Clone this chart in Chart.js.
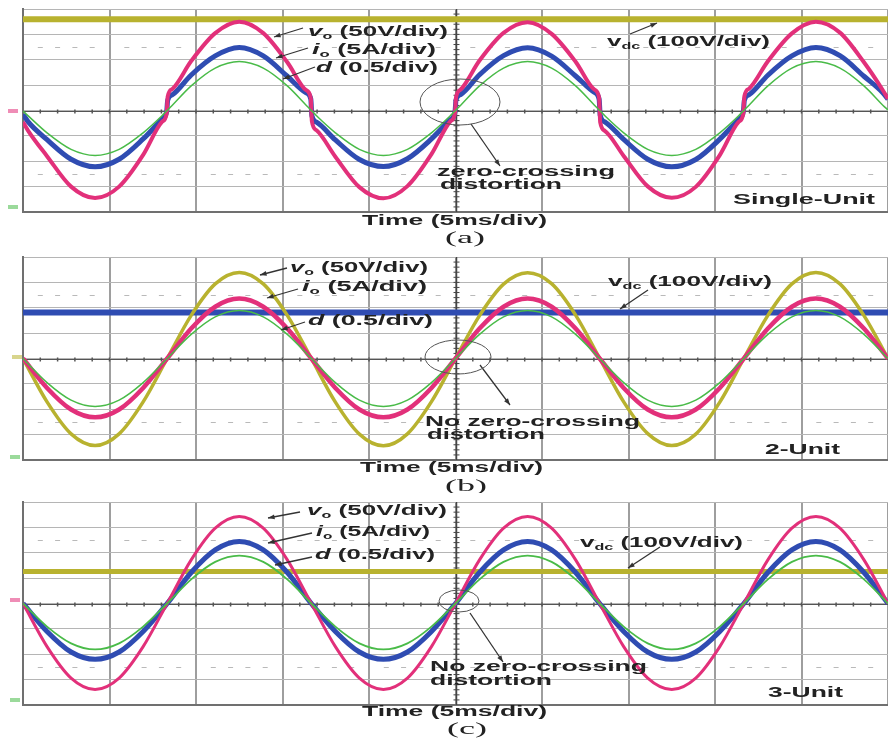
<!DOCTYPE html>
<html>
<head>
<meta charset="utf-8">
<script src="https://cdn.jsdelivr.net/npm/chart.js@4.4.1/dist/chart.umd.min.js"></script>
<style>
  body { margin: 0; background: #fff; width: 888px; height: 738px; overflow: hidden; position: relative; }
  canvas { position: absolute; left: 0; }
</style>
</head>
<body>
<canvas id="chartA" width="888" height="248" style="top:0"></canvas>
<canvas id="chartB" width="888" height="245" style="top:248px"></canvas>
<canvas id="chartC" width="888" height="245" style="top:493px"></canvas>
<script>
// time axis in ms (5 ms/div, 10 div), values in scope divisions
// (a) has extra samples around each zero crossing for the step
const timeA = [0, 0.3, 1.389, 2.778, 4.167, 5.556, 6.944, 8.033, 8.303, 8.363, 8.633, 9.722, 11.111, 12.5, 13.889, 15.278, 16.367, 16.637,
  16.697, 16.967, 18.056, 19.444, 20.833, 22.222, 23.611, 24.7, 24.97, 25.03, 25.3, 26.389, 27.778, 29.167, 30.556, 31.944, 33.033, 33.303,
  33.363, 33.633, 34.722, 36.111, 37.5, 38.889, 40.278, 41.367, 41.637, 41.697, 41.967, 43.056, 44.444, 45.833, 47.222, 48.611, 49.7, 50];

// (a) single-unit
const voA = [-0.45, -0.8, -1.8, -3.0, -3.45, -3.0, -1.75, -0.45, -0.12, 0.55, 0.85, 1.95, 3.05, 3.5, 3.05, 1.9, 0.8, 0.48,
  -0.42, -0.78, -1.82, -3.02, -3.46, -2.98, -1.72, -0.43, -0.1, 0.52, 0.83, 1.97, 3.06, 3.48, 3.02, 1.92, 0.82, 0.5,
  -0.46, -0.8, -1.79, -2.99, -3.44, -3.01, -1.76, -0.45, -0.12, 0.56, 0.86, 1.94, 3.04, 3.5, 3.07, 1.9, 0.8, 0.46];
const ioA = [-0.15, -0.45, -1.15, -1.92, -2.22, -1.92, -1.12, -0.35, -0.05, 0.4, 0.62, 1.4, 2.15, 2.48, 2.15, 1.35, 0.7, 0.45,
  -0.2, -0.46, -1.16, -1.93, -2.21, -1.9, -1.12, -0.36, -0.06, 0.42, 0.63, 1.41, 2.16, 2.47, 2.14, 1.36, 0.71, 0.44,
  -0.18, -0.45, -1.14, -1.92, -2.22, -1.93, -1.13, -0.35, -0.05, 0.4, 0.62, 1.39, 2.15, 2.48, 2.16, 1.35, 0.7, 0.45];
const dA = [-0.02, -0.21, -0.88, -1.53, -1.77, -1.53, -0.88, -0.21, -0.02, 0.02, 0.21, 0.97, 1.67, 1.93, 1.67, 0.97, 0.21, 0.02,
  -0.02, -0.21, -0.88, -1.53, -1.77, -1.53, -0.88, -0.21, -0.02, 0.02, 0.21, 0.97, 1.67, 1.93, 1.67, 0.97, 0.21, 0.02,
  -0.02, -0.21, -0.88, -1.53, -1.77, -1.53, -0.88, -0.21, -0.02, 0.02, 0.21, 0.97, 1.67, 1.93, 1.67, 0.97, 0.21, 0.02];

const timeBC = [0, 1.389, 2.778, 4.167, 5.556, 6.944, 8.333, 9.722, 11.111, 12.5, 13.889, 15.278,
  16.667, 18.056, 19.444, 20.833, 22.222, 23.611, 25, 26.389, 27.778, 29.167, 30.556, 31.944,
  33.333, 34.722, 36.111, 37.5, 38.889, 40.278, 41.667, 43.056, 44.444, 45.833, 47.222, 48.611, 50];

// (b) 2-unit
const voB = [0, -1.71, -2.97, -3.43, -2.97, -1.71, 0, 1.7, 2.94, 3.39, 2.94, 1.7,
  0, -1.72, -2.98, -3.44, -2.97, -1.7, 0, 1.69, 2.93, 3.38, 2.95, 1.71,
  0, -1.71, -2.96, -3.43, -2.98, -1.72, 0, 1.7, 2.94, 3.39, 2.94, 1.69, 0];
const ioB = [0, -1.16, -2.01, -2.32, -2.01, -1.16, 0, 1.18, 2.04, 2.36, 2.04, 1.18,
  0, -1.16, -2.01, -2.32, -2.01, -1.16, 0, 1.18, 2.04, 2.36, 2.04, 1.18,
  0, -1.16, -2.01, -2.32, -2.01, -1.16, 0, 1.18, 2.04, 2.36, 2.04, 1.18, 0];
const dB = [0, -0.95, -1.64, -1.89, -1.64, -0.95, 0, 0.95, 1.64, 1.89, 1.64, 0.95,
  0, -0.95, -1.64, -1.89, -1.64, -0.95, 0, 0.95, 1.64, 1.89, 1.64, 0.95,
  0, -0.95, -1.64, -1.89, -1.64, -0.95, 0, 0.95, 1.64, 1.89, 1.64, 0.95, 0];

// (c) 3-unit
const voC = [0, -1.7, -2.94, -3.39, -2.94, -1.7, 0, 1.72, 2.97, 3.43, 2.97, 1.72,
  0, -1.7, -2.94, -3.39, -2.94, -1.7, 0, 1.72, 2.97, 3.43, 2.97, 1.72,
  0, -1.7, -2.94, -3.39, -2.94, -1.7, 0, 1.72, 2.97, 3.43, 2.97, 1.72, 0];
const ioC = [0, -1.1, -1.91, -2.2, -1.91, -1.1, 0, 1.22, 2.11, 2.44, 2.11, 1.22,
  0, -1.1, -1.91, -2.2, -1.91, -1.1, 0, 1.22, 2.11, 2.44, 2.11, 1.22,
  0, -1.1, -1.91, -2.2, -1.91, -1.1, 0, 1.22, 2.11, 2.44, 2.11, 1.22, 0];
const dC = [0, -0.91, -1.57, -1.81, -1.57, -0.91, 0, 0.95, 1.64, 1.89, 1.64, 0.95,
  0, -0.91, -1.57, -1.81, -1.57, -0.91, 0, 0.95, 1.64, 1.89, 1.64, 0.95,
  0, -0.91, -1.57, -1.81, -1.57, -0.91, 0, 0.95, 1.64, 1.89, 1.64, 0.95, 0];

// dc link traces are flat
const vdcTime = [0, 50];
const vdcA = [3.6, 3.6];
const vdcB = [1.81, 1.81];
const vdcC = [1.26, 1.26];

const OLIVE = '#b8b22f';
const PINK = '#e2307a';
const BLUE = '#2f4cb2';
const GREEN = '#49bb48';

function pts(ts, vs) {
  return ts.map((t, i) => ({ x: t, y: vs[i] }));
}

function line(ts, vs, color, width) {
  return {
    data: pts(ts, vs),
    borderColor: color,
    borderWidth: width,
    pointRadius: 0,
    fill: false,
    cubicInterpolationMode: 'monotone'
  };
}

// draw text stretched to a given width (the scope captions are wide)
function drawRich(ctx, parts, x, y, width, size, serif) {
  const fam = serif ? '"Liberation Serif", serif' : '"Liberation Sans", Arial, sans-serif';
  const fontFor = p => {
    const sz = p[1] === 's' ? size * 0.62 : size;
    const st = p[1] === 'i' ? 'italic ' : '';
    return st + (serif ? '' : 'bold ') + sz + 'px ' + fam;
  };
  let natural = 0;
  parts.forEach(p => { ctx.font = fontFor(p); natural += ctx.measureText(p[0]).width; });
  ctx.save();
  ctx.translate(x, y);
  ctx.scale(width / natural, 1);
  ctx.fillStyle = '#222';
  ctx.textBaseline = 'middle';
  ctx.textAlign = 'left';
  let cx = 0;
  parts.forEach(p => {
    ctx.font = fontFor(p);
    ctx.fillText(p[0], cx, p[1] === 's' ? size * 0.3 : 0);
    cx += ctx.measureText(p[0]).width;
  });
  ctx.restore();
}

function arrow(ctx, x1, y1, x2, y2) {
  ctx.save();
  ctx.strokeStyle = '#333';
  ctx.fillStyle = '#333';
  ctx.lineWidth = 1.3;
  ctx.beginPath();
  ctx.moveTo(x1, y1);
  ctx.lineTo(x2, y2);
  ctx.stroke();
  const a = Math.atan2(y2 - y1, x2 - x1);
  ctx.beginPath();
  ctx.moveTo(x2, y2);
  ctx.lineTo(x2 - 7 * Math.cos(a - 0.35), y2 - 7 * Math.sin(a - 0.35));
  ctx.lineTo(x2 - 7 * Math.cos(a + 0.35), y2 - 7 * Math.sin(a + 0.35));
  ctx.closePath();
  ctx.fill();
  ctx.restore();
}

// scope graticule extras: centre cross with minor ticks, dashed reference rows
const scopePlugin = {
  id: 'scope',
  beforeDatasetsDraw(chart) {
    const { ctx, chartArea: ca, scales: { x, y } } = chart;
    ctx.save();
    // dashed rows at +-2.5 div
    ctx.strokeStyle = '#b9b9b9';
    ctx.lineWidth = 1;
    [2.5, -2.5].forEach(v => {
      const py = Math.round(y.getPixelForValue(v)) + 0.5;
      for (let t = 1; t < 50; t++) {
        if (t % 5 === 0) continue;
        const px = x.getPixelForValue(t);
        ctx.beginPath(); ctx.moveTo(px - 2.5, py); ctx.lineTo(px + 2.5, py); ctx.stroke();
      }
    });
    // centre horizontal
    const cy = Math.round(y.getPixelForValue(0)) + 0.5;
    ctx.strokeStyle = '#555';
    ctx.beginPath(); ctx.moveTo(ca.left, cy); ctx.lineTo(ca.right, cy); ctx.stroke();
    ctx.lineWidth = 1.5;
    for (let t = 1; t < 50; t++) {
      const px = x.getPixelForValue(t);
      ctx.beginPath(); ctx.moveTo(px, cy - 2); ctx.lineTo(px, cy + 2); ctx.stroke();
    }
    // centre vertical
    const cx = Math.round(x.getPixelForValue(25)) + 0.5;
    ctx.lineWidth = 1.5;
    ctx.strokeStyle = '#444';
    ctx.beginPath(); ctx.moveTo(cx, ca.top); ctx.lineTo(cx, ca.bottom); ctx.stroke();
    ctx.lineWidth = 1;
    for (let v = -3.8; v < 4; v += 0.2) {
      const py = y.getPixelForValue(v);
      ctx.beginPath(); ctx.moveTo(cx - 3, py); ctx.lineTo(cx + 3, py); ctx.stroke();
    }
    ctx.restore();
  },
  afterDraw(chart, args, opts) {
    const ctx = chart.ctx;
    const ann = opts.ann;
    // channel markers at the left edge
    ann.marks.forEach(m => {
      ctx.fillStyle = m[2];
      ctx.globalAlpha = 0.55;
      ctx.fillRect(m[0], m[1] - 2, 10, 4);
      ctx.globalAlpha = 1;
    });
    ann.labels.forEach(l => drawRich(ctx, l.parts, l.x, l.y, l.w, l.size || 14, l.serif));
    ann.arrows.forEach(a => arrow(ctx, a[0], a[1], a[2], a[3]));
    const e = ann.ellipse;
    ctx.save();
    ctx.strokeStyle = '#555';
    ctx.lineWidth = 1;
    ctx.beginPath();
    ctx.ellipse(e[0], e[1], e[2], e[3], 0, 0, Math.PI * 2);
    ctx.stroke();
    ctx.restore();
  }
};

function makeChart(id, h, datasets, ann) {
  return new Chart(document.getElementById(id), {
    type: 'line',
    data: { datasets: datasets },
    options: {
      responsive: false,
      animation: false,
      events: [],
      layout: { padding: { left: 23, top: 9, right: 0, bottom: h - 212 } },
      plugins: {
        legend: { display: false },
        tooltip: { enabled: false },
        scope: { ann: ann }
      },
      scales: {
        x: {
          type: 'linear', min: 0, max: 50,
          ticks: { stepSize: 5, display: false },
          grid: { color: '#9e9e9e', lineWidth: 2, drawTicks: false },
          border: { color: '#707070', width: 2 }
        },
        y: {
          type: 'linear', min: -4, max: 4,
          ticks: { stepSize: 1, display: false },
          grid: { color: '#b5b5b5', lineWidth: 1, drawTicks: false },
          border: { color: '#707070', width: 2 }
        }
      }
    },
    plugins: [scopePlugin]
  });
}

const VO = [['v', 'i'], ['o', 's'], [' (50V/div)', 'n']];
const IO = [['i', 'i'], ['o', 's'], [' (5A/div)', 'n']];
const DD = [['d', 'i'], [' (0.5/div)', 'n']];
const VDC = [['v', 'n'], ['dc', 's'], [' (100V/div)', 'n']];

makeChart('chartA', 248, [
  line(timeA, dA, GREEN, 1.5),
  line(timeA, voA, PINK, 4),
  line(timeA, ioA, BLUE, 5),
  line(vdcTime, vdcA, OLIVE, 6)
], {
  marks: [[8, 111, PINK], [8, 207, GREEN]],
  labels: [
    { parts: VO, x: 308, y: 32, w: 140 },
    { parts: IO, x: 312, y: 50, w: 124 },
    { parts: DD, x: 316, y: 68, w: 122 },
    { parts: VDC, x: 607, y: 42, w: 163 },
    { parts: [['zero-crossing', 'n']], x: 437, y: 172, w: 178 },
    { parts: [['distortion', 'n']], x: 440, y: 185, w: 122 },
    { parts: [['Single-Unit', 'n']], x: 733, y: 200, w: 142 },
    { parts: [['Time (5ms/div)', 'n']], x: 362, y: 221, w: 185 },
    { parts: [['(a)', 'n']], x: 445, y: 239, w: 40, size: 16, serif: true }
  ],
  arrows: [[303, 28, 274, 37], [308, 48, 276, 58], [315, 67, 283, 79], [630, 34, 657, 23], [471, 124, 500, 166]],
  ellipse: [460, 102, 40, 23]
});

makeChart('chartB', 245, [
  line(timeBC, dB, GREEN, 1.5),
  line(timeBC, ioB, PINK, 4.5),
  line(timeBC, voB, OLIVE, 3.5),
  line(vdcTime, vdcB, BLUE, 6)
], {
  marks: [[12, 109, OLIVE], [10, 209, GREEN]],
  labels: [
    { parts: VO, x: 290, y: 20, w: 138 },
    { parts: IO, x: 302, y: 39, w: 125 },
    { parts: DD, x: 308, y: 73, w: 125 },
    { parts: VDC, x: 608, y: 34, w: 164 },
    { parts: [['No zero-crossing', 'n']], x: 425, y: 174, w: 215 },
    { parts: [['distortion', 'n']], x: 427, y: 187, w: 118 },
    { parts: [['2-Unit', 'n']], x: 765, y: 202, w: 75 },
    { parts: [['Time (5ms/div)', 'n']], x: 360, y: 220, w: 183 },
    { parts: [['(b)', 'n']], x: 445, y: 239, w: 42, size: 16, serif: true }
  ],
  arrows: [[287, 20, 260, 27], [298, 41, 267, 50], [305, 74, 281, 82], [648, 42, 620, 61], [480, 117, 510, 157]],
  ellipse: [458, 109, 33, 17]
});

makeChart('chartC', 245, [
  line(timeBC, dC, GREEN, 1.8),
  line(timeBC, voC, PINK, 3),
  line(timeBC, ioC, BLUE, 5),
  line(vdcTime, vdcC, OLIVE, 5)
], {
  marks: [[10, 107, PINK], [10, 207, GREEN]],
  labels: [
    { parts: VO, x: 307, y: 18, w: 140 },
    { parts: IO, x: 316, y: 39, w: 114 },
    { parts: DD, x: 315, y: 62, w: 120 },
    { parts: VDC, x: 580, y: 50, w: 163 },
    { parts: [['No zero-crossing', 'n']], x: 430, y: 174, w: 217 },
    { parts: [['distortion', 'n']], x: 430, y: 188, w: 122 },
    { parts: [['3-Unit', 'n']], x: 768, y: 200, w: 75 },
    { parts: [['Time (5ms/div)', 'n']], x: 362, y: 219, w: 185 },
    { parts: [['(c)', 'n']], x: 447, y: 237, w: 40, size: 16, serif: true }
  ],
  arrows: [[300, 19, 268, 25], [312, 40, 268, 50], [312, 64, 275, 72], [660, 54, 628, 75], [470, 120, 503, 169]],
  ellipse: [459, 108, 20, 11]
});
</script>
</body>
</html>
